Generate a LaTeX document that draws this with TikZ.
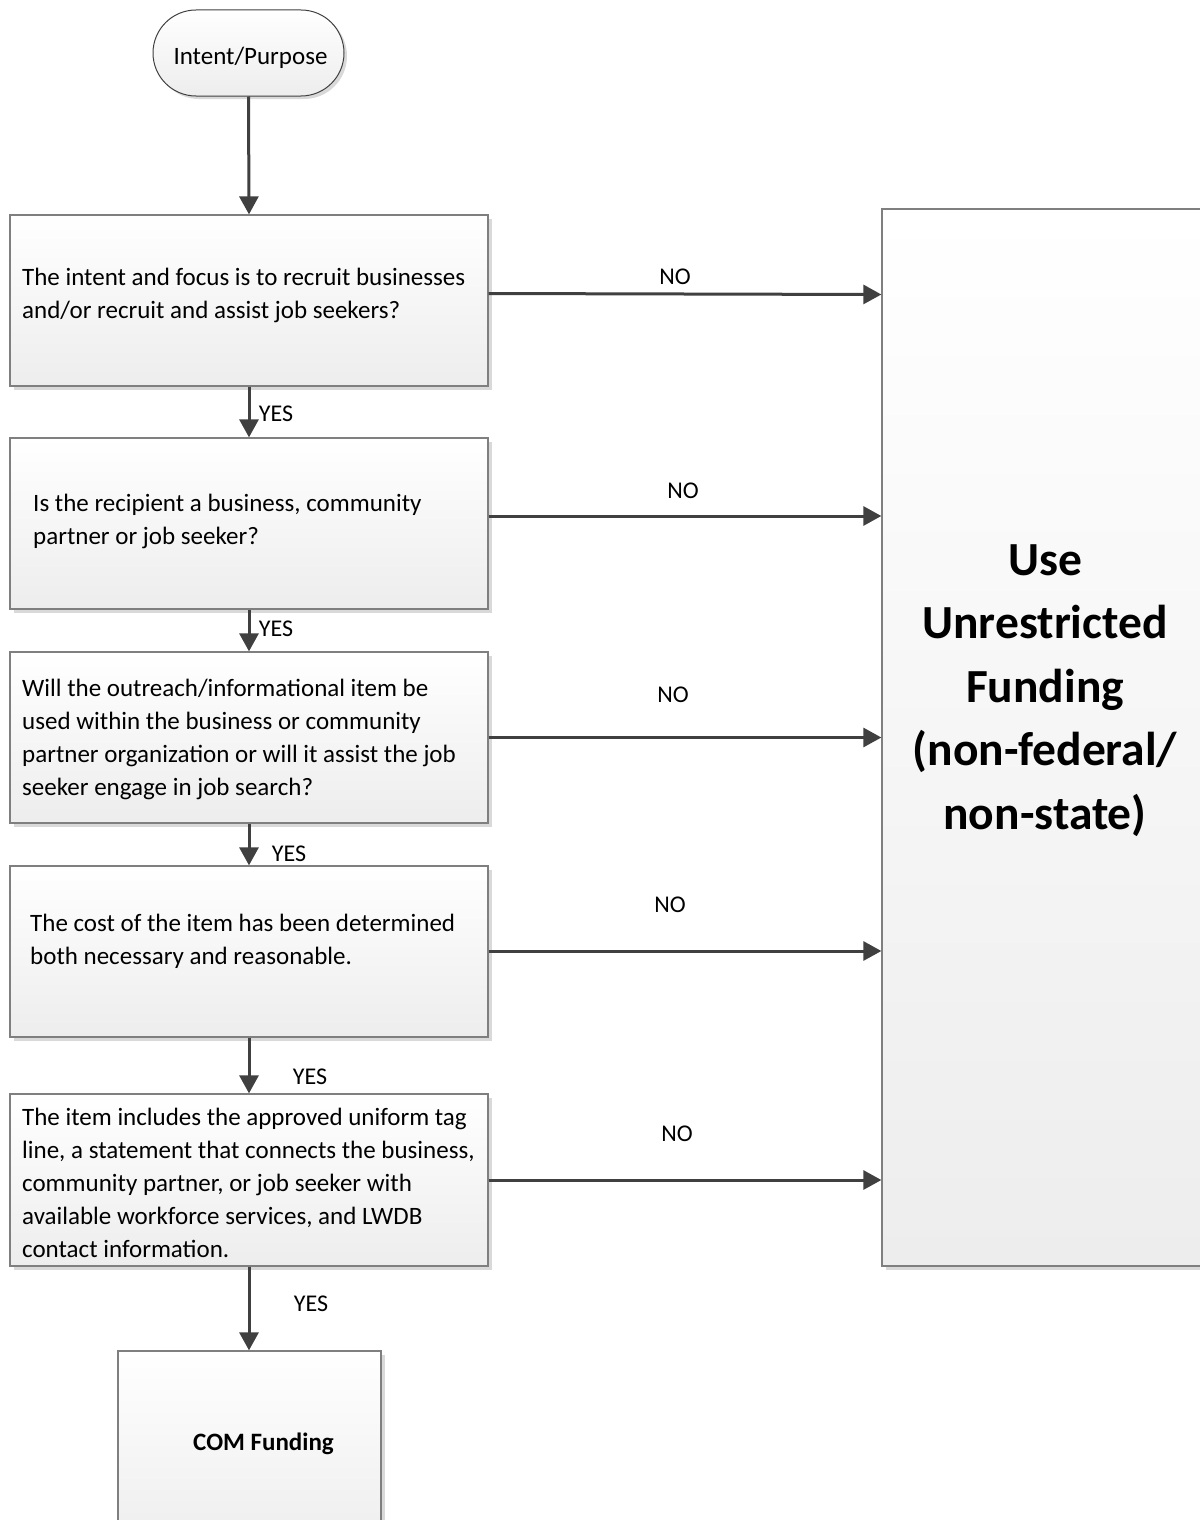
\documentclass[tikz,border=0pt]{standalone}
\usepackage{fontspec}
\setmainfont{Carlito}
\usetikzlibrary{arrows.meta,shapes.misc,shadows,calc}
\definecolor{linec}{HTML}{404040}
\definecolor{borderc}{HTML}{7F7F7F}
\definecolor{botc}{HTML}{EDEDED}
\definecolor{shadc}{HTML}{D9D9D9}
\tikzset{
  boxshape/.style={draw=borderc, line width=1.3pt, rectangle, top color=white, bottom color=botc,
    drop shadow={shadow xshift=4pt, shadow yshift=-4pt, fill=shadc, opacity=1}, inner sep=0pt},
  txt/.style={align=left, inner sep=0pt, font=\fontsize{25}{33}\selectfont},
  lbl/.style={inner sep=0pt, font=\fontsize{24}{28}\selectfont},
  arr/.style={draw=linec, line width=3pt, -{Triangle[length=18pt,width=19pt]}},
}
\begin{document}
\begin{tikzpicture}[x=1pt,y=-1pt]
\useasboundingbox[fill=white] (0,0) rectangle (1199,1520);

% start terminator
\node[rounded rectangle, draw=linec, line width=1pt, minimum width=191pt, minimum height=86pt,
  top color=white, bottom color=botc, inner sep=0pt,
  drop shadow={shadow xshift=3pt, shadow yshift=-3pt, fill=shadc, opacity=1}] (start) at (248.5,53) {};
\node[inner sep=0pt, font=\fontsize{25}{30}\selectfont] (starttxt) at (250.5,58) {Intent/Purpose};

% decision boxes
\node[boxshape, minimum width=478pt, minimum height=171pt] (b1) at (249,300.5) {};
\node[boxshape, minimum width=478pt, minimum height=171pt] (b2) at (249,523.5) {};
\node[boxshape, minimum width=478pt, minimum height=171pt] (b3) at (249,737.5) {};
\node[boxshape, minimum width=478pt, minimum height=171pt] (b4) at (249,951.5) {};
\node[boxshape, minimum width=478pt, minimum height=172pt] (b5) at (249,1180) {};

% big outcome box
\node[boxshape, minimum width=330pt, minimum height=1057pt] (big) at (1047,737.5) {};
% COM box
\node[boxshape, minimum width=263pt, minimum height=200pt] (com) at (249.5,1451) {};

% texts
\node[txt, anchor=west] (t1) at (22,295.5) {The intent and focus is to recruit businesses\\and/or recruit and assist job seekers?};
\node[txt, anchor=west] (t2) at (33,521.5) {Is the recipient a business, community\\partner or job seeker?};
\node[txt, anchor=west] (t3) at (22,739) {Will the outreach/informational item be\\used within the business or community\\partner organization or will it assist the job\\seeker engage in job search?};
\node[txt, anchor=west] (t4) at (30,941) {The cost of the item has been determined\\both necessary and reasonable.};
\node[txt, anchor=west] (t5) at (22,1183) {The item includes the approved uniform tag\\line, a statement that connects the business,\\community partner, or job seeker with\\available workforce services, and LWDB\\contact information.};

\node[align=center, inner sep=0pt, font=\bfseries\fontsize{47.5}{63.5}\selectfont] (bigtxt) at (1045,690.5) {Use\\Unrestricted\\Funding\\(non-federal/\\non-state)};
\node[inner sep=0pt, font=\bfseries\fontsize{25}{30}\selectfont] (comtxt) at (263.5,1444) {COM Funding};

% vertical arrows
\draw[arr] (start.south) -- (b1.north);
\draw[arr] (b1.south) -- (b2.north);
\draw[arr] (b2.south) -- (b3.north);
\draw[arr] (b3.south) -- (b4.north);
\draw[arr] (b4.south) -- (b5.north);
\draw[arr] (b5.south) -- (b5.south |- com.north);

% horizontal arrows
\draw[arr] ([yshift=7pt]b1.east) -- ([yshift=6pt]b1.east -| big.west);
\draw[arr] ([yshift=7.5pt]b2.east) -- ([yshift=7.5pt]b2.east -| big.west);
\draw[arr] (b3.east) -- (b3.east -| big.west);
\draw[arr] ([yshift=0.5pt]b4.east) -- ([yshift=0.5pt]b4.east -| big.west);
\draw[arr] (b5.east) -- (b5.east -| big.west);

% labels
\node[lbl] (y1) at (276,414) {YES};
\node[lbl] (y2) at (276,629) {YES};
\node[lbl] (y3) at (289,854) {YES};
\node[lbl] (y4) at (310,1077) {YES};
\node[lbl] (y5) at (311,1304) {YES};
\node[lbl] (n1) at (675,277) {NO};
\node[lbl] (n2) at (683,491) {NO};
\node[lbl] (n3) at (673,695) {NO};
\node[lbl] (n4) at (670,905) {NO};
\node[lbl] (n5) at (677,1134) {NO};
\end{tikzpicture}
\end{document}
